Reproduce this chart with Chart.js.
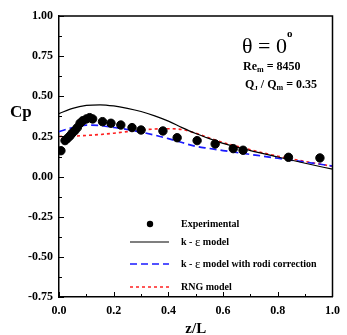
<!DOCTYPE html>
<html>
<head>
<meta charset="utf-8">
<script src="https://cdn.jsdelivr.net/npm/chart.js@4.4.0/dist/chart.umd.min.js"></script>
<style>
html, body { margin: 0; padding: 0; background: #fff; }
#wrap { width: 347px; height: 335px; position: relative; }
</style>
</head>
<body>
<div id="wrap"><canvas id="cp"></canvas></div>
<script>
// experimental Cp along z/L
const expZ  = [0.007, 0.022, 0.031, 0.040, 0.048, 0.058, 0.067, 0.077, 0.087, 0.100, 0.112, 0.123,
               0.159, 0.190, 0.226, 0.267, 0.300, 0.380, 0.432, 0.505, 0.571, 0.637, 0.673, 0.839, 0.954];
const expCp = [0.161, 0.224, 0.238, 0.253, 0.270, 0.286, 0.305, 0.332, 0.348, 0.359, 0.367, 0.359,
               0.342, 0.332, 0.321, 0.305, 0.290, 0.284, 0.242, 0.224, 0.203, 0.174, 0.164, 0.120, 0.116];

// model curves, sampled at the same z/L stations
const modelZ = [0, 0.05, 0.1, 0.15, 0.2, 0.25, 0.3, 0.35, 0.4, 0.45, 0.5, 0.55, 0.6, 0.7, 0.8, 0.9, 1.0];
const kEpsCp = [0.392, 0.425, 0.443, 0.447, 0.440, 0.425, 0.405, 0.378, 0.345, 0.305, 0.268, 0.236, 0.207, 0.162, 0.122, 0.083, 0.046];
const rodiCp = [0.280, 0.305, 0.321, 0.318, 0.306, 0.293, 0.277, 0.258, 0.236, 0.212, 0.188, 0.175, 0.162, 0.138, 0.114, 0.090, 0.066];
const rngCp  = [0.250, 0.252, 0.256, 0.262, 0.270, 0.280, 0.290, 0.296, 0.298, 0.293, 0.270, 0.240, 0.212, 0.167, 0.127, 0.094, 0.064];

const xTicks = [0, 0.2, 0.4, 0.6, 0.8, 1.0];
const yTicks = [-0.75, -0.5, -0.25, 0, 0.25, 0.5, 0.75, 1.0];

const serif = '"Liberation Serif", "Times New Roman", serif';

function pts(xs, ys) {
  return xs.map((x, i) => ({ x: x, y: ys[i] }));
}

// box, inward ticks, legend and text notes
const extras = {
  id: 'extras',
  afterDatasetsDraw(chart) {
    const ctx = chart.ctx;
    const a = chart.chartArea;
    const sx = chart.scales.x, sy = chart.scales.y;
    ctx.save();
    ctx.strokeStyle = '#000';
    ctx.lineWidth = 1.5;
    ctx.beginPath();
    ctx.moveTo(a.left, a.top); ctx.lineTo(a.right, a.top); ctx.lineTo(a.right, a.bottom);
    ctx.stroke();

    ctx.lineWidth = 1;
    ctx.beginPath();
    for (let v = -0.75; v <= 1.0001; v += 0.125) {
      const y = Math.round(sy.getPixelForValue(v)) + 0.5;
      const len = Math.abs(v * 4 - Math.round(v * 4)) < 1e-6 ? 5 : 3;
      ctx.moveTo(a.left, y); ctx.lineTo(a.left + len, y);
    }
    for (let v = 0; v <= 1.0001; v += 0.1) {
      const x = Math.round(sx.getPixelForValue(v)) + 0.5;
      const len = Math.abs(v * 5 - Math.round(v * 5)) < 1e-6 ? 5 : 3;
      ctx.moveTo(x, a.bottom); ctx.lineTo(x, a.bottom - len);
    }
    ctx.stroke();

    function runs(x, y, parts) {
      parts.forEach(p => {
        ctx.font = p[1];
        ctx.fillText(p[0], x, y + (p[2] || 0));
        x += ctx.measureText(p[0]).width;
      });
    }

    // legend
    const lf = 'bold 10px ' + serif;
    const ef = '13px ' + serif;
    ctx.fillStyle = '#000';
    ctx.textBaseline = 'middle';
    ctx.beginPath();
    ctx.arc(150, 224, 3.2, 0, Math.PI * 2);
    ctx.fill();
    runs(181, 224, [['Experimental', lf]]);
    const rows = [
      { y: 242, ds: 1, parts: [['k - ', lf], ['\u03b5', ef, 1], [' model', lf]] },
      { y: 264, ds: 2, parts: [['k - ', lf], ['\u03b5', ef, 1], [' model with rodi correction', lf]] },
      { y: 287, ds: 3, parts: [['RNG model', lf]] }
    ];
    rows.forEach(r => {
      const d = chart.data.datasets[r.ds];
      ctx.save();
      ctx.strokeStyle = d.borderColor;
      ctx.lineWidth = d.borderWidth;
      ctx.setLineDash(d.borderDash || []);
      ctx.beginPath();
      ctx.moveTo(130, r.y); ctx.lineTo(169, r.y);
      ctx.stroke();
      ctx.restore();
      runs(181, r.y, r.parts);
    });

    // Cp label
    ctx.textBaseline = 'alphabetic';
    runs(10, 117, [['Cp', 'bold 17px ' + serif]]);

    // notes top right
    runs(242, 53, [['\u03b8 = 0', '22px ' + serif]]);
    runs(287, 37, [['o', 'bold 11px ' + serif]]);
    runs(243, 70, [['Re', 'bold 12px ' + serif], ['m', 'bold 8px ' + serif, 2], [' = 8450', 'bold 12px ' + serif]]);
    runs(245, 88, [['Q', 'bold 12px ' + serif], ['J', 'bold 7px ' + serif, 2], [' / Q', 'bold 12px ' + serif],
                   ['m', 'bold 8px ' + serif, 2], [' = 0.35', 'bold 12px ' + serif]]);
    ctx.restore();
  }
};

const tickFont = { family: serif, weight: 'bold', size: 12 };

new Chart(document.getElementById('cp'), {
  type: 'scatter',
  data: {
    datasets: [{
      label: 'Experimental',
      data: pts(expZ, expCp),
      backgroundColor: '#000',
      borderColor: '#000',
      pointRadius: 4.2,
      pointHoverRadius: 4.2,
      showLine: false
    }, {
      label: 'k - \u03b5 model',
      data: pts(modelZ, kEpsCp),
      borderColor: '#000',
      borderWidth: 1.2,
      pointRadius: 0,
      showLine: true,
      cubicInterpolationMode: 'monotone'
    }, {
      label: 'k - \u03b5 model with rodi correction',
      data: pts(modelZ, rodiCp),
      borderColor: '#1a1aff',
      borderWidth: 1.7,
      borderDash: [7, 4],
      pointRadius: 0,
      showLine: true,
      cubicInterpolationMode: 'monotone'
    }, {
      label: 'RNG model',
      data: pts(modelZ, rngCp),
      borderColor: '#ff2020',
      borderWidth: 1.6,
      borderDash: [3, 3],
      pointRadius: 0,
      showLine: true,
      cubicInterpolationMode: 'monotone'
    }]
  },
  options: {
    responsive: true,
    maintainAspectRatio: false,
    animation: false,
    layout: { padding: { left: 0, right: 10, top: 16, bottom: 0 } },
    plugins: {
      legend: { display: false },
      tooltip: { enabled: false }
    },
    scales: {
      x: {
        type: 'linear',
        min: 0,
        max: 1,
        afterBuildTicks: s => { s.ticks = xTicks.map(v => ({ value: v })); },
        afterFit: s => { s.height = 38; },
        ticks: {
          callback: v => v.toFixed(1),
          font: tickFont,
          color: '#000',
          padding: 7,
          maxRotation: 0,
          autoSkip: false
        },
        grid: { display: false, drawTicks: false },
        border: { color: '#000', width: 1.5 },
        title: {
          display: true,
          text: 'z/L',
          color: '#000',
          font: { family: serif, weight: 'bold', size: 15 },
          padding: { top: 2, bottom: -3 }
        }
      },
      y: {
        min: -0.75,
        max: 1,
        afterBuildTicks: s => { s.ticks = yTicks.map(v => ({ value: v })); },
        afterFit: s => { s.width = 59; },
        ticks: {
          callback: v => v.toFixed(2),
          font: tickFont,
          color: '#000',
          padding: 6
        },
        grid: { display: false, drawTicks: false },
        border: { color: '#000', width: 1.5 }
      }
    }
  },
  plugins: [extras]
});
</script>
</body>
</html>
